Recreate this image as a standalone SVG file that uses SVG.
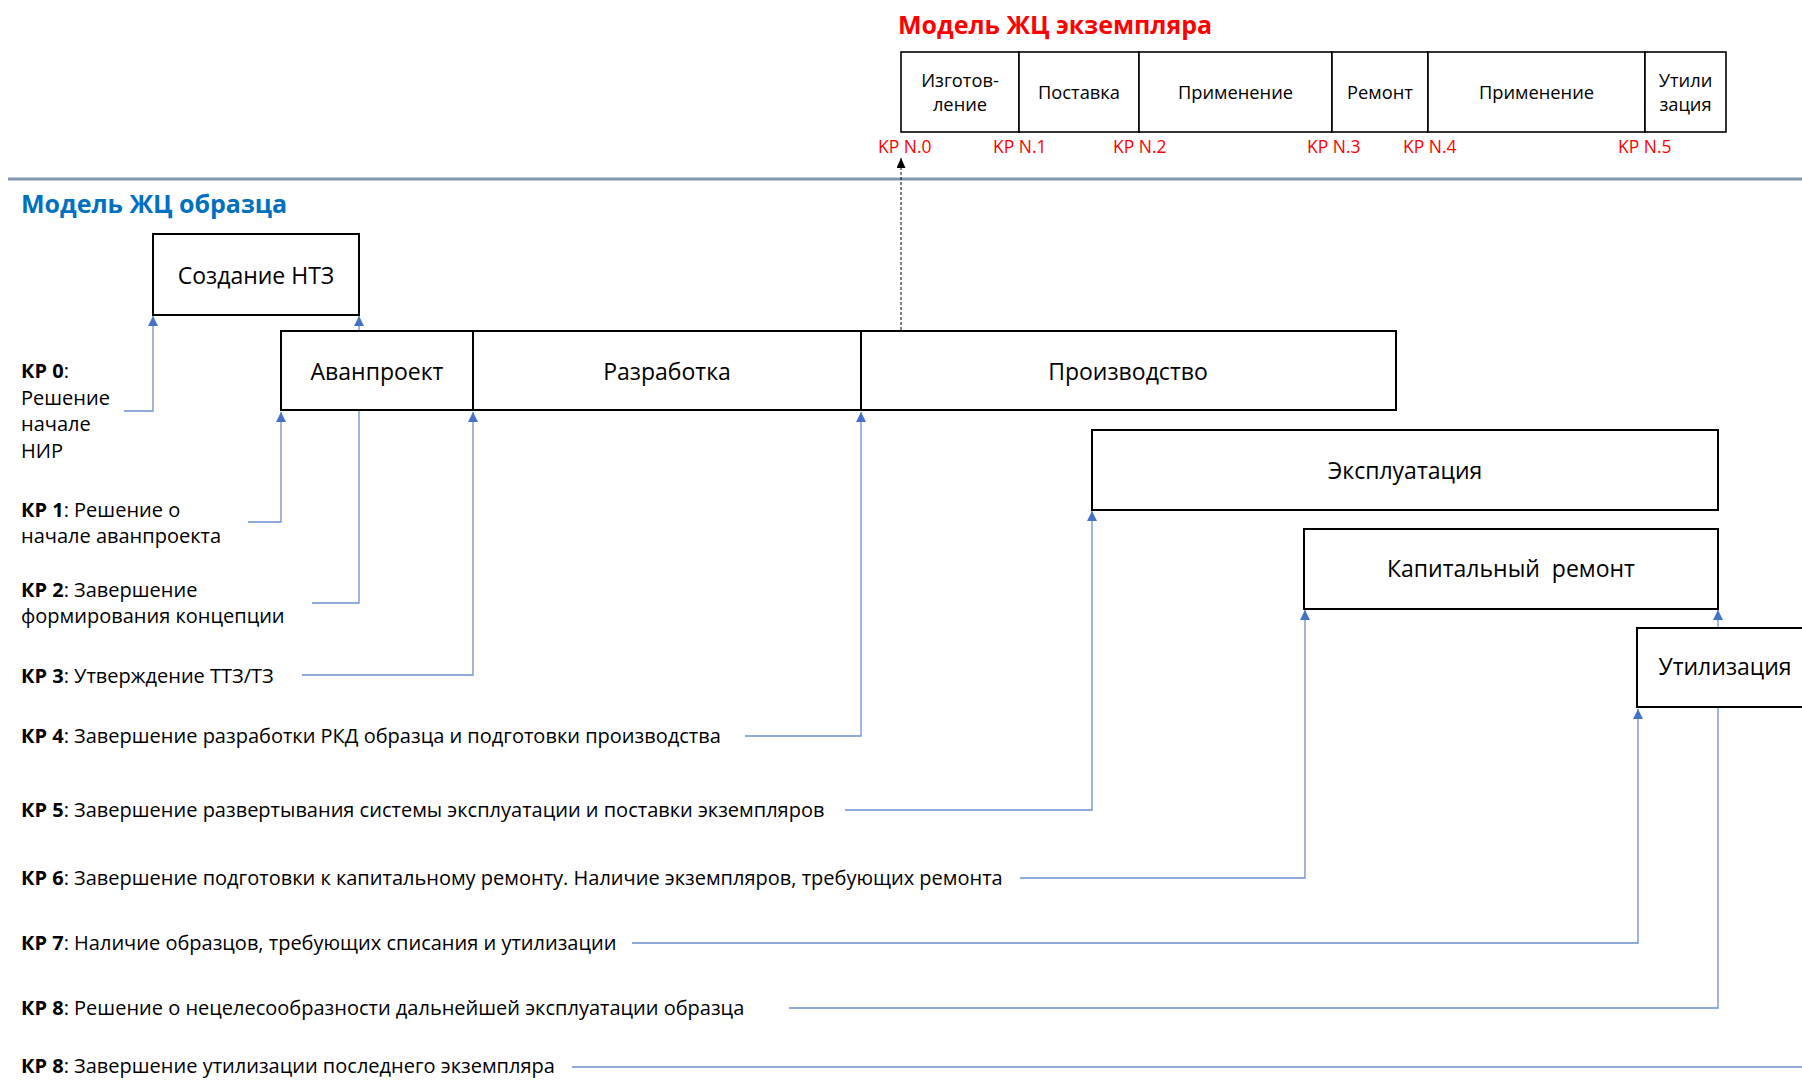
<svg xmlns="http://www.w3.org/2000/svg" width="1802" height="1080" viewBox="0 0 1802 1080">
<style>
.box{fill:#fff;stroke:#000;stroke-width:2}
.cell{fill:#fff;stroke:#000;stroke-width:1.6}
.lbl{font-family:"Open Sans","Noto Sans",sans-serif;font-size:23px;fill:#000;text-anchor:middle}
.clbl{font-family:"Open Sans","Noto Sans",sans-serif;font-size:18.3px;fill:#000;text-anchor:middle}
.kp{font-family:"Open Sans","Noto Sans",sans-serif;font-size:20px;fill:#000}
.kp tspan.b{font-weight:bold}
.kpn{font-family:"Open Sans","Noto Sans",sans-serif;font-size:17.5px;fill:#ff0000}
.conn{fill:none;stroke:#4472c4;stroke-width:1.3;stroke-opacity:0.8}
.title{font-family:"Open Sans","Noto Sans",sans-serif;font-weight:bold;font-size:25px}
</style>
<defs>
<marker id="ah" markerUnits="userSpaceOnUse" markerWidth="11" markerHeight="11" refX="10" refY="5" orient="auto">
<path d="M0,0 L10,5 L0,10 z" fill="#4472c4"/>
</marker>
<marker id="ahk" markerUnits="userSpaceOnUse" markerWidth="11" markerHeight="11" refX="10" refY="4.5" orient="auto">
<path d="M0,0 L10,4.5 L0,9 z" fill="#000"/>
</marker>
</defs>

<line x1="8" y1="179" x2="1802" y2="179" stroke="#8497b0" stroke-width="3"/>
<text class="title" x="898" y="34" fill="#ff0000">Модель ЖЦ экземпляра</text>
<text class="title" x="21" y="213" fill="#0070c0">Модель ЖЦ образца</text>

<g id="connectors">
<polyline class="conn" points="124,411 153,411 153,316" marker-end="url(#ah)"/>
<polyline class="conn" points="248,522 281,522 281,412" marker-end="url(#ah)"/>
<polyline class="conn" points="312,603 359,603 359,316" marker-end="url(#ah)"/>
<polyline class="conn" points="302,675 473,675 473,412" marker-end="url(#ah)"/>
<polyline class="conn" points="745,736 861,736 861,412" marker-end="url(#ah)"/>
<polyline class="conn" points="845,810 1092,810 1092,511" marker-end="url(#ah)"/>
<polyline class="conn" points="1020,878 1305,878 1305,610" marker-end="url(#ah)"/>
<polyline class="conn" points="632,943 1638,943 1638,709" marker-end="url(#ah)"/>
<polyline class="conn" points="789,1008 1718,1008 1718,610" marker-end="url(#ah)"/>
<polyline class="conn" points="572,1067 1802,1067"/>
<line x1="901" y1="330" x2="901" y2="158" stroke="#000" stroke-width="1" stroke-dasharray="3,2" marker-end="url(#ahk)"/>
</g>

<g id="node-nt3"><rect class="box" x="153" y="234" width="206" height="81"/><text class="lbl" x="256" y="284">Создание НТЗ</text></g>
<g id="node-avan"><rect class="box" x="281" y="331" width="192" height="79"/><text class="lbl" x="377" y="380">Аванпроект</text></g>
<g id="node-razr"><rect class="box" x="473" y="331" width="388" height="79"/><text class="lbl" x="667" y="380">Разработка</text></g>
<g id="node-proizv"><rect class="box" x="861" y="331" width="535" height="79"/><text class="lbl" x="1128" y="380">Производство</text></g>
<g id="node-expl"><rect class="box" x="1092" y="430" width="626" height="80"/><text class="lbl" x="1405" y="479">Эксплуатация</text></g>
<g id="node-kapr"><rect class="box" x="1304" y="529" width="414" height="80"/><text class="lbl" x="1511" y="577" style="white-space:pre">Капитальный  ремонт</text></g>
<g id="node-util"><rect class="box" x="1637" y="628" width="180" height="79"/><text class="lbl" x="1725" y="675">Утилизация</text></g>

<g id="node-c1"><rect class="cell" x="901" y="52" width="118" height="80"/><text class="clbl" x="960" y="87">Изготов-</text><text class="clbl" x="960" y="111">ление</text></g>
<g id="node-c2"><rect class="cell" x="1019" y="52" width="120" height="80"/><text class="clbl" x="1079" y="99">Поставка</text></g>
<g id="node-c3"><rect class="cell" x="1139" y="52" width="193" height="80"/><text class="clbl" x="1235.5" y="99">Применение</text></g>
<g id="node-c4"><rect class="cell" x="1332" y="52" width="96" height="80"/><text class="clbl" x="1380" y="99">Ремонт</text></g>
<g id="node-c5"><rect class="cell" x="1428" y="52" width="217" height="80"/><text class="clbl" x="1536.5" y="99">Применение</text></g>
<g id="node-c6"><rect class="cell" x="1645" y="52" width="81" height="80"/><text class="clbl" x="1685.5" y="87">Утили</text><text class="clbl" x="1685.5" y="111">зация</text></g>

<g id="kpn-labels">
<text class="kpn" x="878" y="153">KP N.0</text>
<text class="kpn" x="993" y="153">KP N.1</text>
<text class="kpn" x="1113" y="153">KP N.2</text>
<text class="kpn" x="1307" y="153">KP N.3</text>
<text class="kpn" x="1403" y="153">KP N.4</text>
<text class="kpn" x="1618" y="153">KP N.5</text>
</g>

<g id="kp-labels">
<text class="kp" x="21" y="378"><tspan class="b">КР 0</tspan>:</text>
<text class="kp" x="21" y="405">Решение</text>
<text class="kp" x="21" y="431">начале</text>
<text class="kp" x="21" y="458">НИР</text>
<text class="kp" x="21" y="517"><tspan class="b">КР 1</tspan>: Решение о</text>
<text class="kp" x="21" y="543">начале аванпроекта</text>
<text class="kp" x="21" y="597"><tspan class="b">КР 2</tspan>: Завершение</text>
<text class="kp" x="21" y="623">формирования концепции</text>
<text class="kp" x="21" y="683"><tspan class="b">КР 3</tspan>: Утверждение ТТЗ/ТЗ</text>
<text class="kp" x="21" y="743"><tspan class="b">КР 4</tspan>: Завершение разработки РКД образца и подготовки производства</text>
<text class="kp" x="21" y="817"><tspan class="b">КР 5</tspan>: Завершение развертывания системы эксплуатации и поставки экземпляров</text>
<text class="kp" x="21" y="885"><tspan class="b">КР 6</tspan>: Завершение подготовки к капитальному ремонту. Наличие экземпляров, требующих ремонта</text>
<text class="kp" x="21" y="950"><tspan class="b">КР 7</tspan>: Наличие образцов, требующих списания и утилизации</text>
<text class="kp" x="21" y="1015"><tspan class="b">КР 8</tspan>: Решение о нецелесообразности дальнейшей эксплуатации образца</text>
<text class="kp" x="21" y="1073"><tspan class="b">КР 8</tspan>: Завершение утилизации последнего экземпляра</text>
</g>
</svg>
